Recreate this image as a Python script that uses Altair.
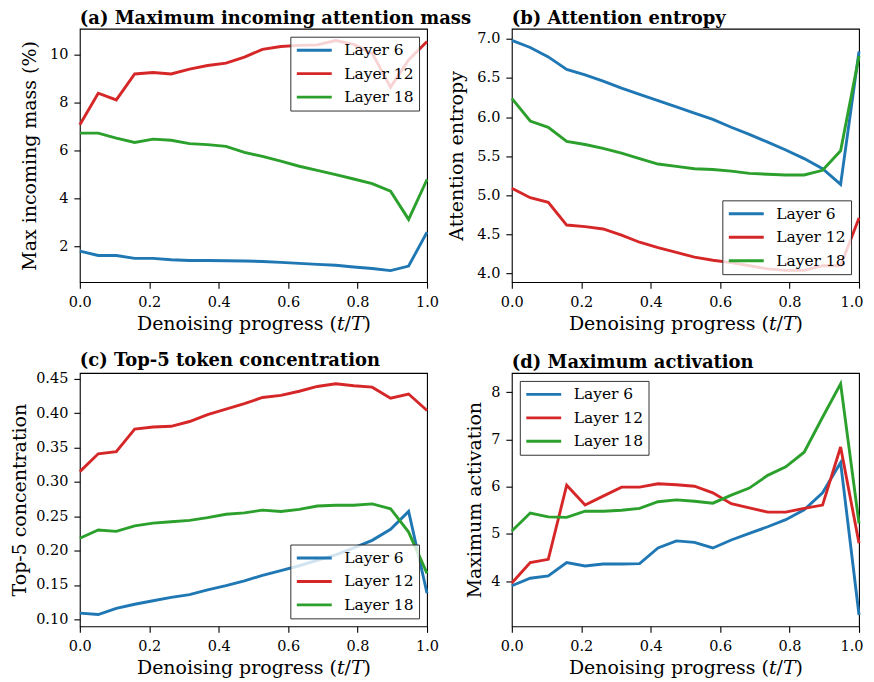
import altair as alt
import pandas as pd

progress = [0.000, 0.053, 0.105, 0.158, 0.211, 0.263, 0.316, 0.368, 0.421, 0.474,
            0.526, 0.579, 0.632, 0.684, 0.737, 0.789, 0.842, 0.895, 0.947, 1.000]
layers = ["Layer 6", "Layer 12", "Layer 18"]
colors = ["#1f77b4", "#d62728", "#2ca02c"]

# (a) Maximum incoming attention mass (%)
mass_l6 = [1.81, 1.63, 1.63, 1.51, 1.51, 1.45, 1.42, 1.42, 1.41, 1.40,
           1.38, 1.34, 1.30, 1.26, 1.22, 1.15, 1.09, 1.00, 1.19, 2.60]
mass_l12 = [7.07, 8.38, 8.10, 9.18, 9.24, 9.18, 9.38, 9.53, 9.63, 9.88,
            10.20, 10.32, 10.37, 10.39, 10.57, 10.41, 10.04, 8.63, 9.76, 10.53]
mass_l18 = [6.72, 6.72, 6.51, 6.33, 6.47, 6.42, 6.28, 6.24, 6.17, 5.92,
            5.75, 5.55, 5.34, 5.17, 4.99, 4.81, 4.62, 4.30, 3.13, 4.79]

# (b) Attention entropy
ent_l6 = [6.98, 6.89, 6.77, 6.61, 6.54, 6.46, 6.37, 6.29, 6.21, 6.13,
          6.05, 5.97, 5.87, 5.78, 5.68, 5.58, 5.47, 5.34, 5.14, 6.84]
ent_l12 = [5.09, 4.97, 4.91, 4.62, 4.60, 4.57, 4.49, 4.40, 4.33, 4.27,
           4.21, 4.17, 4.14, 4.10, 4.06, 4.04, 4.04, 4.10, 4.10, 4.71]
ent_l18 = [6.24, 5.95, 5.87, 5.69, 5.65, 5.60, 5.54, 5.47, 5.40, 5.37,
           5.34, 5.33, 5.31, 5.28, 5.27, 5.26, 5.26, 5.32, 5.57, 6.78]

# (c) Top-5 token concentration
top_l6 = [0.109, 0.107, 0.116, 0.122, 0.127, 0.132, 0.136, 0.143, 0.149, 0.156,
          0.164, 0.171, 0.178, 0.186, 0.194, 0.204, 0.215, 0.231, 0.257, 0.138]
top_l12 = [0.315, 0.341, 0.344, 0.377, 0.380, 0.381, 0.388, 0.398, 0.406, 0.414,
           0.423, 0.426, 0.432, 0.439, 0.443, 0.440, 0.438, 0.422, 0.428, 0.404]
top_l18 = [0.218, 0.230, 0.228, 0.236, 0.240, 0.242, 0.244, 0.248, 0.253, 0.255,
           0.259, 0.257, 0.260, 0.265, 0.266, 0.266, 0.268, 0.261, 0.227, 0.167]

# (d) Maximum activation
act_l6 = [3.90, 4.06, 4.11, 4.39, 4.32, 4.36, 4.36, 4.37, 4.70, 4.85,
          4.82, 4.70, 4.87, 5.01, 5.15, 5.30, 5.51, 5.87, 6.51, 3.28]
act_l12 = [3.96, 4.39, 4.46, 6.03, 5.61, 5.80, 5.99, 5.99, 6.06, 6.04,
           6.01, 5.87, 5.64, 5.55, 5.46, 5.46, 5.54, 5.61, 6.84, 4.80]
act_l18 = [5.06, 5.44, 5.36, 5.35, 5.48, 5.48, 5.50, 5.54, 5.68, 5.72,
           5.69, 5.65, 5.82, 5.97, 6.24, 6.42, 6.73, 7.47, 8.18, 5.22]

x_ticks = [0.0, 0.2, 0.4, 0.6, 0.8, 1.0]
FONT = "DejaVu Serif"
W, H = 348, 254


def panel(title, ytitle, series, ydomain, yticks, yfmt, legend_orient, title_x, right_col):
    rows = []
    for name, vals in zip(layers, series):
        for t, v in zip(progress, vals):
            rows.append({"t": t, "value": v, "layer": name})
    df = pd.DataFrame(rows)
    xaxis = dict(values=x_ticks, format=".1f", title="Denoising progress (𝑡/𝑇)",
                 titleBaseline="alphabetic", titleY=47, labelFlush=False,
                 labelBaseline="alphabetic", labelPadding=18)
    if right_col:
        # keep the last label inside the page edge
        xaxis["labelAlign"] = {"condition": {"test": "datum.value == 1", "value": "right"},
                               "value": "center"}
        xaxis["labelOffset"] = {"condition": {"test": "datum.value == 1", "value": 4},
                                "value": 0}
    return alt.Chart(
        df,
        title=alt.Title(title, anchor="start", frame="group", baseline="alphabetic",
                        offset=-13, font=FONT, fontSize=18, fontWeight="bold", color="black"),
    ).mark_line(strokeWidth=2.9).encode(
        x=alt.X("t:Q", scale=alt.Scale(domain=[0, 1], nice=False, zero=False),
                axis=alt.Axis(**xaxis)),
        y=alt.Y("value:Q", scale=alt.Scale(domain=ydomain, nice=False, zero=False),
                axis=alt.Axis(values=yticks, format=yfmt, title=ytitle,
                              titleX=title_x, titleY=H / 2, titleAngle=270,
                              titleBaseline="alphabetic", titleAlign="center",
                              labelFlush=False, labelPadding=6)),
        color=alt.Color("layer:N", scale=alt.Scale(domain=layers, range=colors),
                        legend=alt.Legend(title=None, orient=legend_orient, offset=8,
                                          symbolType="M-1,0H4", symbolSize=196,
                                          symbolStrokeWidth=2.9, labelFontSize=15.5,
                                          labelFont=FONT, labelColor="black",
                                          labelOffset=32, padding=5, rowPadding=6.5,
                                          fillColor="rgba(255,255,255,0.8)",
                                          strokeColor="#333", cornerRadius=0)),
    ).properties(width=W, height=H)


pa = panel("(a) Maximum incoming attention mass", "Max incoming mass (%)",
           [mass_l6, mass_l12, mass_l18], [0.52, 11.06], [2, 4, 6, 8, 10], "d",
           "top-right", -44, False)
pb = panel("(b) Attention entropy", "Attention entropy",
           [ent_l6, ent_l12, ent_l18], [3.89, 7.13], [4.0, 4.5, 5.0, 5.5, 6.0, 6.5, 7.0], ".1f",
           "bottom-right", -49, True)
pc = panel("(c) Top-5 token concentration", "Top-5 concentration",
           [top_l6, top_l12, top_l18], [0.0898, 0.4587],
           [0.10, 0.15, 0.20, 0.25, 0.30, 0.35, 0.40, 0.45], ".2f",
           "bottom-right", -54, False)
pd_ = panel("(d) Maximum activation", "Maximum activation",
            [act_l6, act_l12, act_l18], [3.04, 8.41], [4, 5, 6, 7, 8], "d",
            "top-left", -31, True)

chart = alt.concat(
    pa, pb, pc, pd_, columns=2, spacing={"row": 91, "column": 85}, bounds="flush"
).resolve_scale(
    color="independent"
).properties(
    padding={"left": 2, "top": 0, "right": 0, "bottom": 0}
).configure(
    font=FONT,
).configure_view(
    stroke="black", strokeWidth=1.1
).configure_axis(
    grid=False, domain=False, tickColor="black", tickWidth=1.1, tickSize=6,
    labelFont=FONT, labelFontSize=14.5, labelColor="black",
    titleFont=FONT, titleFontSize=19, titleFontWeight="normal", titleColor="black",
)

chart.save("out.html", embed_options={"renderer": "svg", "actions": False})
